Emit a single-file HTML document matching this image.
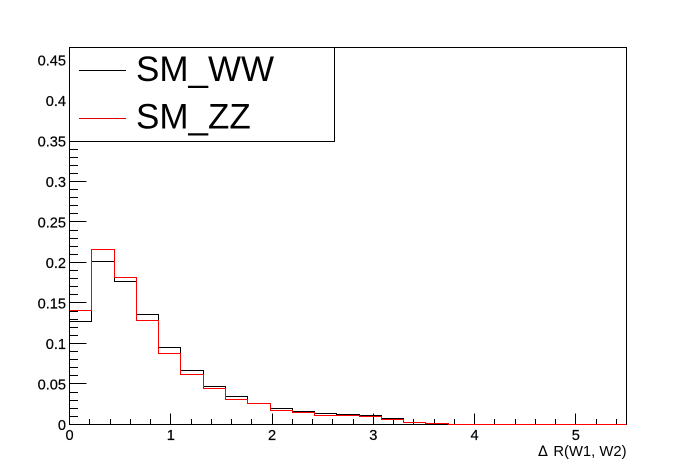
<!DOCTYPE html>
<html>
<head>
<meta charset="utf-8">
<title>Delta R histogram</title>
<style>
html,body{margin:0;padding:0;background:#fff;width:696px;height:472px;overflow:hidden}
svg{display:block;font-family:"Liberation Sans",sans-serif}
text{fill:#000}
#x-labels text,#y-labels text{stroke:#000;stroke-width:.2px}
</style>
</head>
<body>
<svg id="chart" width="696" height="472" viewBox="0 0 696 472" xmlns="http://www.w3.org/2000/svg">
  <rect x="0" y="0" width="696" height="472" fill="#fff"/>
  <rect x="69.5" y="47.5" width="557" height="377" fill="none" stroke="#000" shape-rendering="crispEdges"/>
  <g id="axes" shape-rendering="crispEdges"></g>
  <g id="series" shape-rendering="crispEdges"></g>
  <g id="x-labels"></g>
  <g id="y-labels"></g>
  <text x="538" y="456" font-size="14.5" font-family="'DejaVu Sans',sans-serif">Δ</text>
  <text x="626.5" y="456" font-size="14.8" text-anchor="end">R(W1, W2)</text>
  <g>
    <rect x="69.5" y="47.5" width="265" height="94" fill="#fff" stroke="#000" shape-rendering="crispEdges"/>
    <line x1="79" y1="70.5" x2="126" y2="70.5" stroke="#000" shape-rendering="crispEdges"/>
    <text x="136" y="81" font-size="35">SM_WW</text>
    <line x1="79" y1="118.5" x2="126" y2="118.5" stroke="#e00000" shape-rendering="crispEdges"/>
    <text x="136" y="128.5" font-size="35">SM_ZZ</text>
  </g>
</svg>
<script>
var binEdgesMax = 5.5;
var smWW = [0.1268,0.2008,0.1760,0.1354,0.0947,0.0663,0.0465,0.0342,0.0255,0.0194,0.0157,0.0132,0.0120,0.0107,0.0070,0.0025,0.0013,0,0,0,0,0,0,0,0];
var smZZ = [0.1404,0.2156,0.1810,0.1280,0.0873,0.0613,0.0440,0.0305,0.0255,0.0169,0.0144,0.0107,0.0107,0.0095,0.0058,0.0025,0.0013,0,0,0,0,0,0,0,0];
var xTickLabels = ["0","1","2","3","4","5"];
var yTickLabels = ["0","0.05","0.1","0.15","0.2","0.25","0.3","0.35","0.4","0.45"];
var yMax = 0.4654;

var NS = "http://www.w3.org/2000/svg";
var X0 = 69.5, X1 = 626.5, Y0 = 424.5, Y1 = 47.5;
function sx(v){ return X0 + v * (X1 - X0) / binEdgesMax; }
function sy(v){ return Y0 - v * (Y0 - Y1) / yMax; }
function snap(p){ return Math.floor(p) + 0.5; }

var axes = document.getElementById("axes");
var seriesGroup = document.getElementById("series");
var xLabels = document.getElementById("x-labels");
var yLabels = document.getElementById("y-labels");

function tickLine(x1, y1, x2, y2){
  var l = document.createElementNS(NS, "line");
  l.setAttribute("x1", x1);
  l.setAttribute("y1", y1);
  l.setAttribute("x2", x2);
  l.setAttribute("y2", y2);
  l.setAttribute("stroke", "#000");
  return l;
}

// x ticks: five minor divisions per unit
for (var i = 0; i * 0.2 <= binEdgesMax + 1e-9; i++) {
  var xv = i * 0.2;
  var xp = snap(sx(xv));
  var xMajor = i % 5 === 0;
  var xt = tickLine(xp, Y0, xp, Y0 - (xMajor ? 11 : 5.5));
  
  
  axes.appendChild(xt);
}
// y ticks: five minor divisions per 0.05
for (var j = 0; j * 0.01 <= yMax + 1e-9; j++) {
  var yv = j * 0.01;
  var yp = snap(sy(yv));
  var yMajor = j % 5 === 0;
  var yt = tickLine(X0, yp, X0 + (yMajor ? 17 : 8.5), yp);
  
  
  axes.appendChild(yt);
}
xTickLabels.forEach(function(lbl){
  var t = document.createElementNS(NS, "text");
  t.setAttribute("x", sx(parseFloat(lbl)));
  t.setAttribute("y", 440);
  t.setAttribute("font-size", "14.6");
  t.setAttribute("text-anchor", "middle");
  
  
  t.textContent = lbl;
  xLabels.appendChild(t);
});
yTickLabels.forEach(function(lbl){
  var t = document.createElementNS(NS, "text");
  t.setAttribute("x", 66);
  t.setAttribute("y", sy(parseFloat(lbl)) + 5.5);
  t.setAttribute("font-size", "14.6");
  t.setAttribute("text-anchor", "end");
  
  
  t.textContent = lbl;
  yLabels.appendChild(t);
});

function histPath(values){
  var w = binEdgesMax / values.length;
  var d = "";
  values.forEach(function(v, k){
    var y = snap(sy(v));
    d += (k === 0 ? "M" : "L") + snap(sx(k * w)) + " " + y + "L" + snap(sx((k + 1) * w)) + " " + y;
  });
  return d;
}
var wwPath = document.createElementNS(NS, "path");
wwPath.setAttribute("d", histPath(smWW));
wwPath.setAttribute("fill", "none");
wwPath.setAttribute("stroke", "#000");


seriesGroup.appendChild(wwPath);

var zzPath = document.createElementNS(NS, "path");
zzPath.setAttribute("d", histPath(smZZ));
zzPath.setAttribute("fill", "none");
zzPath.setAttribute("stroke", "#f00");


seriesGroup.appendChild(zzPath);
</script>
</body>
</html>
